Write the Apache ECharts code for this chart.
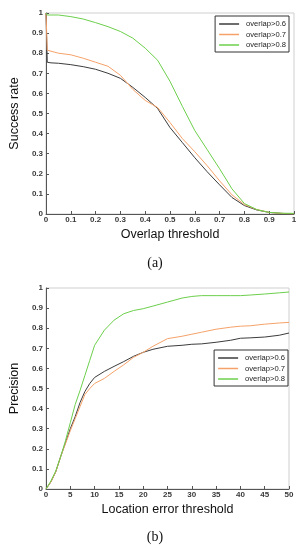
<!DOCTYPE html>
<html><head><meta charset="utf-8">
<script src="https://cdn.jsdelivr.net/npm/echarts@6/dist/echarts.min.js"></script>
<style>html,body{margin:0;padding:0;background:#fff}#c{width:304px;height:550px}</style>
</head><body><div id="c"></div>
<script>
// Chart (a): success rate vs overlap threshold
const overlapX = [0, 0.005, 0.02, 0.05, 0.1, 0.15, 0.2, 0.25, 0.3, 0.35, 0.4, 0.45, 0.5, 0.55, 0.6, 0.65, 0.7, 0.75, 0.8, 0.85, 0.9, 0.95, 1];
const successA06 = [1.0, 0.755, 0.752, 0.75, 0.743, 0.733, 0.72, 0.70, 0.675, 0.63, 0.58, 0.525, 0.43, 0.355, 0.28, 0.21, 0.145, 0.082, 0.042, 0.02, 0.008, 0.003, 0];
const successA07 = [1.0, 0.815, 0.81, 0.80, 0.792, 0.775, 0.755, 0.735, 0.69, 0.62, 0.565, 0.53, 0.455, 0.375, 0.31, 0.24, 0.165, 0.095, 0.047, 0.022, 0.008, 0.003, 0];
const successA08 = [1.0, 0.99, 0.99, 0.99, 0.982, 0.97, 0.952, 0.932, 0.908, 0.875, 0.825, 0.765, 0.66, 0.535, 0.415, 0.32, 0.225, 0.125, 0.052, 0.022, 0.008, 0.004, 0.003];
// Chart (b): precision vs location error threshold
const errorX = [0, 1, 2, 3, 4, 5, 6, 7, 8, 9, 10, 12, 14, 16, 18, 20, 22, 25, 28, 30, 32, 35, 38, 40, 42, 45, 48, 50];
const precB06 = [0, 0.035, 0.085, 0.16, 0.23, 0.30, 0.36, 0.43, 0.485, 0.525, 0.555, 0.585, 0.61, 0.634, 0.66, 0.68, 0.695, 0.71, 0.715, 0.72, 0.722, 0.73, 0.74, 0.75, 0.752, 0.756, 0.765, 0.776];
const precB07 = [0, 0.035, 0.085, 0.16, 0.225, 0.29, 0.35, 0.41, 0.47, 0.50, 0.525, 0.55, 0.585, 0.618, 0.655, 0.68, 0.71, 0.748, 0.76, 0.77, 0.78, 0.795, 0.805, 0.81, 0.812, 0.82, 0.826, 0.829];
const precB08 = [0, 0.04, 0.09, 0.16, 0.24, 0.33, 0.42, 0.49, 0.565, 0.64, 0.715, 0.79, 0.84, 0.872, 0.888, 0.897, 0.91, 0.93, 0.95, 0.958, 0.962, 0.962, 0.962, 0.962, 0.965, 0.97, 0.976, 0.98];
const seriesNames = ['overlap>0.6', 'overlap>0.7', 'overlap>0.8'];
const colors = ['#3c3c3c', '#f5a26a', '#6ccf4c'];
const yTicks = [0, 0.1, 0.2, 0.3, 0.4, 0.5, 0.6, 0.7, 0.8, 0.9, 1];

function pairs(xs, ys) { return xs.map((x, i) => [x, ys[i]]); }
const font = '"Liberation Sans", Arial, sans-serif';
function xAxis(grid, max, interval, name) {
  return {
    type: 'value', gridIndex: grid, min: 0, max: max, interval: interval,
    name: name, nameLocation: 'middle', nameGap: 14,
    nameTextStyle: { fontFamily: font, fontSize: 12.5, color: '#111' },
    axisLine: { show: true, onZero: false, lineStyle: { color: '#555', width: 1 } },
    axisTick: { show: true, inside: true, length: 3, lineStyle: { color: '#555' } },
    axisLabel: { fontFamily: font, fontSize: 8, fontWeight: 'bold', color: '#3a3a3a', margin: 2,
      formatter: v => String(+v.toFixed(2)) },
    splitLine: { show: false }
  };
}
function yAxis(grid, name, gap) {
  return {
    type: 'value', gridIndex: grid, min: 0, max: 1, interval: 0.1,
    name: name, nameLocation: 'middle', nameGap: gap, nameRotate: 90,
    nameTextStyle: { fontFamily: font, fontSize: 12.5, color: '#111' },
    axisLine: { show: true, onZero: false, lineStyle: { color: '#555', width: 1 } },
    axisTick: { show: true, inside: true, length: 3, lineStyle: { color: '#555' } },
    axisLabel: { fontFamily: font, fontSize: 8, fontWeight: 'bold', color: '#3a3a3a', margin: 3,
      customValues: yTicks, formatter: v => String(+v.toFixed(2)) },
    splitLine: { show: false }
  };
}
function line(name, i, xi, data) {
  return { name: name, type: 'line', xAxisIndex: xi, yAxisIndex: xi, data: data,
    showSymbol: false, symbol: 'none', smooth: false, animation: false,
    lineStyle: { color: colors[i], width: 1 }, itemStyle: { color: colors[i] } };
}
function legend(top, right) {
  return {
    show: true, orient: 'vertical', top: top, right: right,
    data: seriesNames.map((n, i) => ({ name: n, icon: 'rect', itemStyle: { color: colors[i] } })),
    itemWidth: 20, itemHeight: 1.5, itemGap: 2.5, padding: [4, 3, 3, 4],
    backgroundColor: '#fff', borderColor: '#333', borderWidth: 1,
    textStyle: { fontFamily: font, fontSize: 7.6, color: '#222', lineHeight: 8, padding: [0, 0, 0, 2] },
    selectedMode: false
  };
}
const chart = echarts.init(document.getElementById('c'), null, { renderer: 'canvas' });
const a = [successA06, successA07, successA08];
const b = [precB06, precB07, precB08];
chart.setOption({
  animation: false,
  backgroundColor: '#fff',
  grid: [
    { left: 36, right: 10, top: 13, height: 201, show: true, borderColor: '#cfcfcf', borderWidth: 1, backgroundColor: '#fff' },
    { left: 33, right: 15, top: 288, height: 201, show: true, borderColor: '#cfcfcf', borderWidth: 1, backgroundColor: '#fff' }
  ],
  xAxis: [xAxis(0, 1, 0.1, 'Overlap threshold'), xAxis(1, 50, 5, 'Location error threshold')],
  yAxis: [yAxis(0, 'Success rate', 19), yAxis(1, 'Precision', 17)],
  legend: [legend(16, 15), legend(350, 16)],
  series: [
    ...seriesNames.map((n, i) => line(n, i, 0, pairs(overlapX, a[i]))),
    ...seriesNames.map((n, i) => line(n, i, 1, pairs(errorX, b[i])))
  ],
  graphic: [
    { type: 'text', x: 155, y: 263, style: { text: '(a)', fontFamily: '"Liberation Serif", "Times New Roman", serif', fontSize: 14, fill: '#111', textAlign: 'center', textVerticalAlign: 'middle' } },
    { type: 'text', x: 155, y: 537, style: { text: '(b)', fontFamily: '"Liberation Serif", "Times New Roman", serif', fontSize: 14, fill: '#111', textAlign: 'center', textVerticalAlign: 'middle' } }
  ]
});
</script></body></html>
